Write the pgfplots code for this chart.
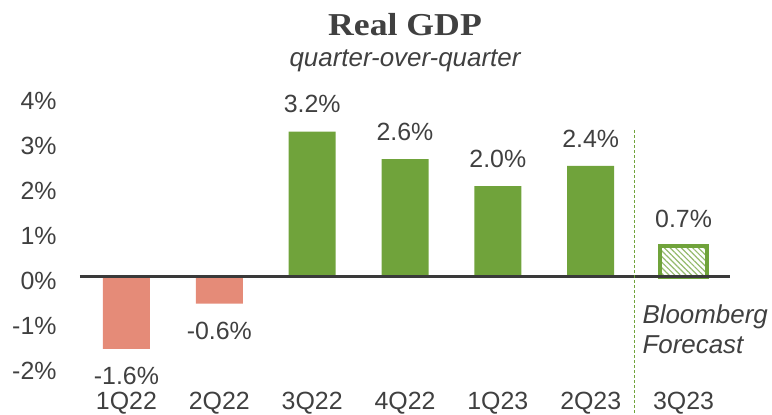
\documentclass[border=0pt]{standalone}
\usepackage{fontspec}
\setmainfont{Liberation Sans}
\newfontfamily\titlefont{Liberation Serif}
\usepackage{graphicx}
\usepackage{pgfplots}
\pgfplotsset{compat=1.18}
\usetikzlibrary{patterns.meta}
\definecolor{gdpgreen}{RGB}{112,163,59}
\definecolor{gdpred}{RGB}{229,139,120}
\definecolor{txt}{RGB}{64,64,64}
\newcommand\bigfont{\fontsize{25}{30}\selectfont}
\newcommand\notefont{\fontsize{26}{30}\selectfont}
\begin{document}
\begin{tikzpicture}
\begin{axis}[name=ax, scale only axis, width=650bp, height=270bp,
  xmin=-0.5, xmax=6.5, ymin=-2, ymax=4, clip=false,
  axis line style={draw=none}, tick style={draw=none}, major tick length=0pt,
  xtick={0,...,6}, xticklabels={1Q22,2Q22,3Q22,4Q22,1Q23,2Q23,3Q23},
  ytick={-2,...,4}, yticklabels={-2\%,-1\%,0\%,1\%,2\%,3\%,4\%},
  tick label style={font=\bigfont, text=txt, inner sep=0pt},
  xticklabel style={anchor=north, yshift=-25bp},
  yticklabel style={anchor=east, xshift=-23.3bp, yshift=-3.5bp},
  every node near coord/.append style={font=\bigfont, text=txt, inner sep=0pt, outer sep=18.5bp},
]
\addplot[ybar, bar width=47bp, bar shift=0pt, fill=gdpred, draw=none,
  point meta=explicit symbolic, nodes near coords,
  every node near coord/.append style={anchor=north}]
  coordinates {(0,-1.6) [-1.6\%] (1,-0.59) [-0.6\%]};
\addplot[ybar, bar width=47bp, bar shift=0pt, fill=gdpgreen, draw=none,
  point meta=explicit symbolic, nodes near coords,
  every node near coord/.append style={anchor=south}]
  coordinates {(2,3.23) [3.2\%] (3,2.62) [2.6\%] (4,2.02) [2.0\%] (5,2.47) [2.4\%]};
\addplot[ybar, bar width=47bp, bar shift=0pt, draw=gdpgreen, line width=3.5bp,
  pattern={Lines[angle=-45,distance=4bp,line width=1.2bp]}, pattern color=gdpgreen!75,
  point meta=explicit symbolic, nodes near coords,
  every node near coord/.append style={anchor=south}]
  coordinates {(6,0.69) [0.7\%]};
\addplot[txt!90!black, line width=3bp] coordinates {(-0.5,0) (6.5,0)};
\addplot[gdpgreen, line width=1.3bp, dash pattern=on 3bp off 2bp] coordinates {(5.47,3.27) (5.47,-3.07)};
\node[anchor=base west, font=\notefont\itshape, text=txt, inner sep=0pt, xshift=8bp] at (axis cs:5.47,-1.029) {Bloomberg};
\node[anchor=base west, font=\notefont\itshape, text=txt, inner sep=0pt, xshift=8bp] at (axis cs:5.47,-1.696) {Forecast};
\end{axis}
\node[anchor=base, text=txt, inner sep=0pt] at ([yshift=61bp]ax.north) {\scalebox{1.12}[1]{\titlefont\bfseries\fontsize{32}{38}\selectfont Real GDP}};
\node[anchor=base, text=txt, inner sep=0pt, font=\itshape\fontsize{26}{30}\selectfont] at ([yshift=30bp]ax.north) {quarter-over-quarter};
\pgfresetboundingbox
\path[use as bounding box] ([shift={(-80bp,-48bp)}]ax.south west) rectangle ([shift={(42bp,97bp)}]ax.north east);
\end{tikzpicture}
\end{document}
